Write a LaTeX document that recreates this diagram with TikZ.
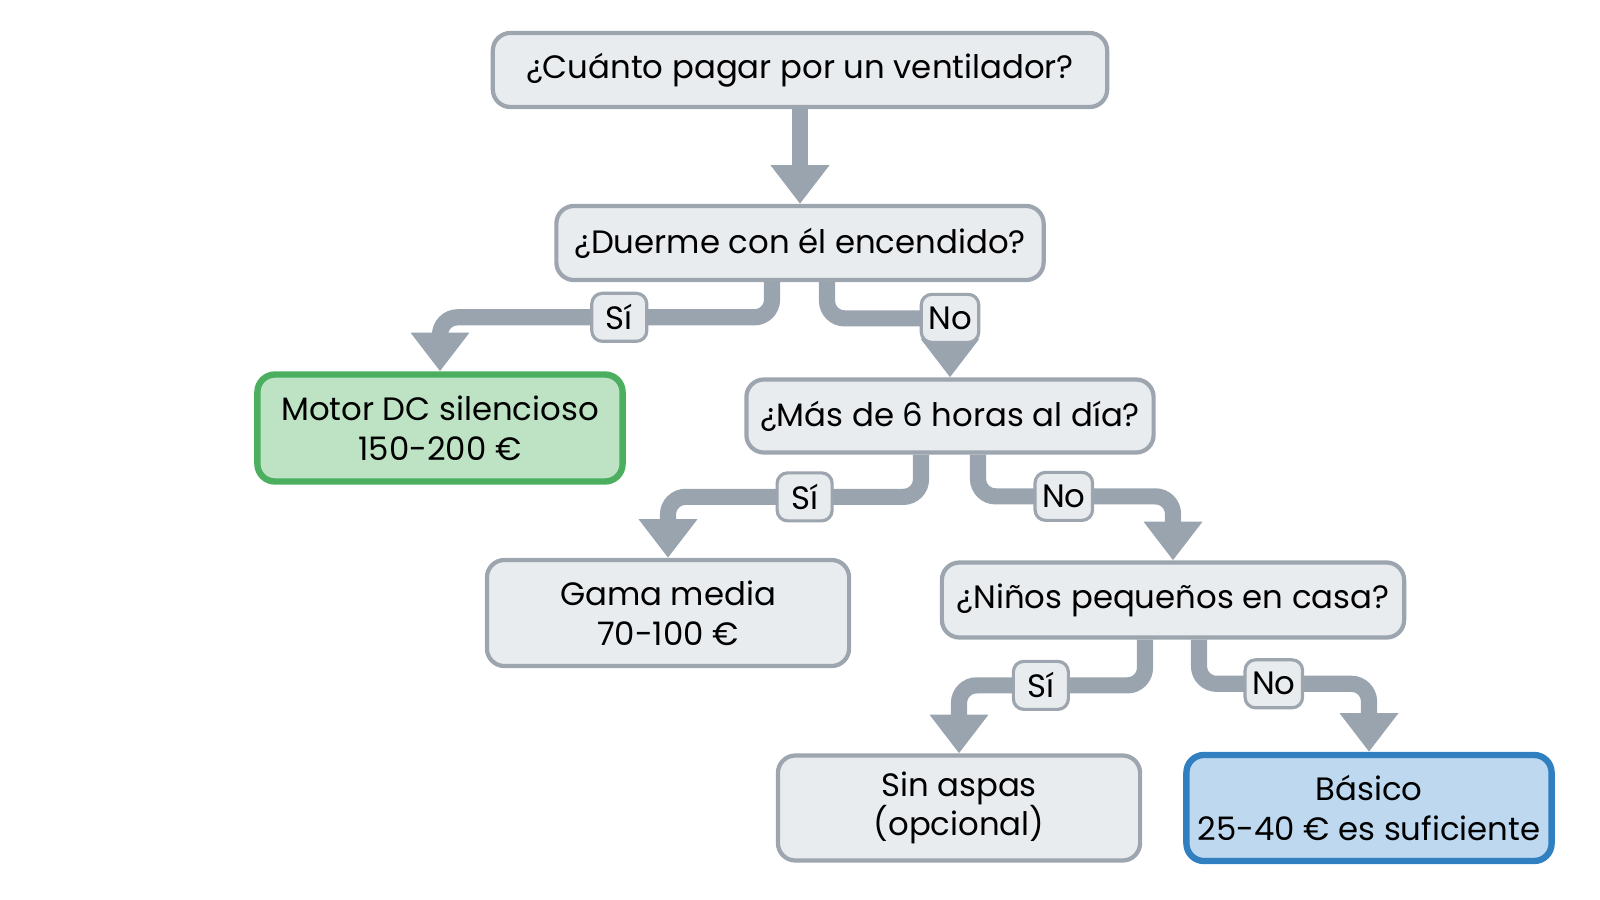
\documentclass[tikz,border=0pt]{standalone}
\usepackage{fontspec}
\setmainfont{Poppins}
\usetikzlibrary{calc,arrows.meta}
\definecolor{boxfill}{HTML}{E9ECEF}
\definecolor{boxline}{HTML}{9DA5AE}
\definecolor{arrowgray}{HTML}{9AA4AF}
\definecolor{greenfill}{HTML}{BDE3C4}
\definecolor{greenline}{HTML}{4CAF5F}
\definecolor{bluefill}{HTML}{BDD8EF}
\definecolor{blueline}{HTML}{2F7FC1}
\tikzset{
  box/.style={draw=boxline, fill=boxfill, line width=1.2pt, rounded corners=5pt,
    align=center, inner sep=2pt, font=\fontsize{9.2}{11.3}\selectfont},
  goodbox/.style={box, draw=greenline, fill=greenfill, line width=1.8pt},
  bestbox/.style={box, draw=blueline, fill=bluefill, line width=1.8pt},
  lbl/.style={draw=boxline, fill=boxfill, line width=0.9pt, rounded corners=3pt,
    minimum height=0.48cm, minimum width=0.55cm, inner sep=2pt,
    font=\fontsize{9.2}{11.3}\selectfont},
  conn/.style={draw=arrowgray, line width=4.6pt, rounded corners=5pt,
    -{Triangle[length=11pt, width=16pt]}},
}

\begin{document}
\begin{tikzpicture}[x=0.01cm, y=-0.01cm]
    \useasboundingbox (0,0) rectangle (1600,900);
    %
    \node[box, minimum width=6.14cm, minimum height=0.74cm] (start) at (800,70)
        {¿Cuánto pagar por un ventilador?};
    \node[box, minimum width=4.87cm, minimum height=0.74cm] (sleep) at (800,243)
        {¿Duerme con él encendido?};
    \node[goodbox, minimum width=3.65cm, minimum height=1.07cm] (dcmotor) at (440,428)
        {Motor DC silencioso\\150-200 €};
    \node[box, minimum width=4.07cm, minimum height=0.73cm] (hours) at (950,416)
        {¿Más de 6 horas al día?};
    \node[box, minimum width=3.62cm, minimum height=1.06cm] (midrange) at (668,613)
        {Gama media\\70-100 €};
    \node[box, minimum width=4.62cm, minimum height=0.75cm] (kids) at (1173,600)
        {¿Niños pequeños en casa?};
    \node[box, minimum width=3.62cm, minimum height=1.05cm] (bladeless) at (959,808)
        {Sin aspas\\(opcional)};
    \node[bestbox, minimum width=3.65cm, minimum height=1.06cm] (basic) at (1369,808)
        {Básico\\25-40 € es suficiente};

    % connectors
    \draw[conn] (start.south) -- (sleep.north);

    \draw[conn] ($(sleep.south)+(-28,0)$) |- ($(dcmotor.north)+(0,-54)$)
        node[lbl, pos=0.73] (s1) {Sí} -- (dcmotor.north);
    \draw[conn] ($(sleep.south)+(27,0)$) |- ($(hours.north)+(0,-59)$)
        node[lbl, pos=1] (n1) {No} -- (hours.north);

    \draw[conn] ($(hours.south)+(-29,0)$) |- ($(midrange.north)+(0,-61)$)
        node[lbl, pos=0.73] (s2) {Sí} -- (midrange.north);
    \draw[conn] ($(hours.south)+(28,0)$) |- ($(kids.north)+(0,-64)$)
        node[lbl, pos=0.72] (n2) {No} -- (kids.north);

    \draw[conn] ($(kids.south)+(-28,0)$) |- ($(bladeless.north)+(0,-68)$)
        node[lbl, pos=0.78] (s3) {Sí} -- (bladeless.north);
    \draw[conn] ($(kids.south)+(26,0)$) |- ($(basic.north)+(0,-68)$)
        node[lbl, pos=0.72] (n3) {No} -- (basic.north);

\end{tikzpicture}
\end{document}
